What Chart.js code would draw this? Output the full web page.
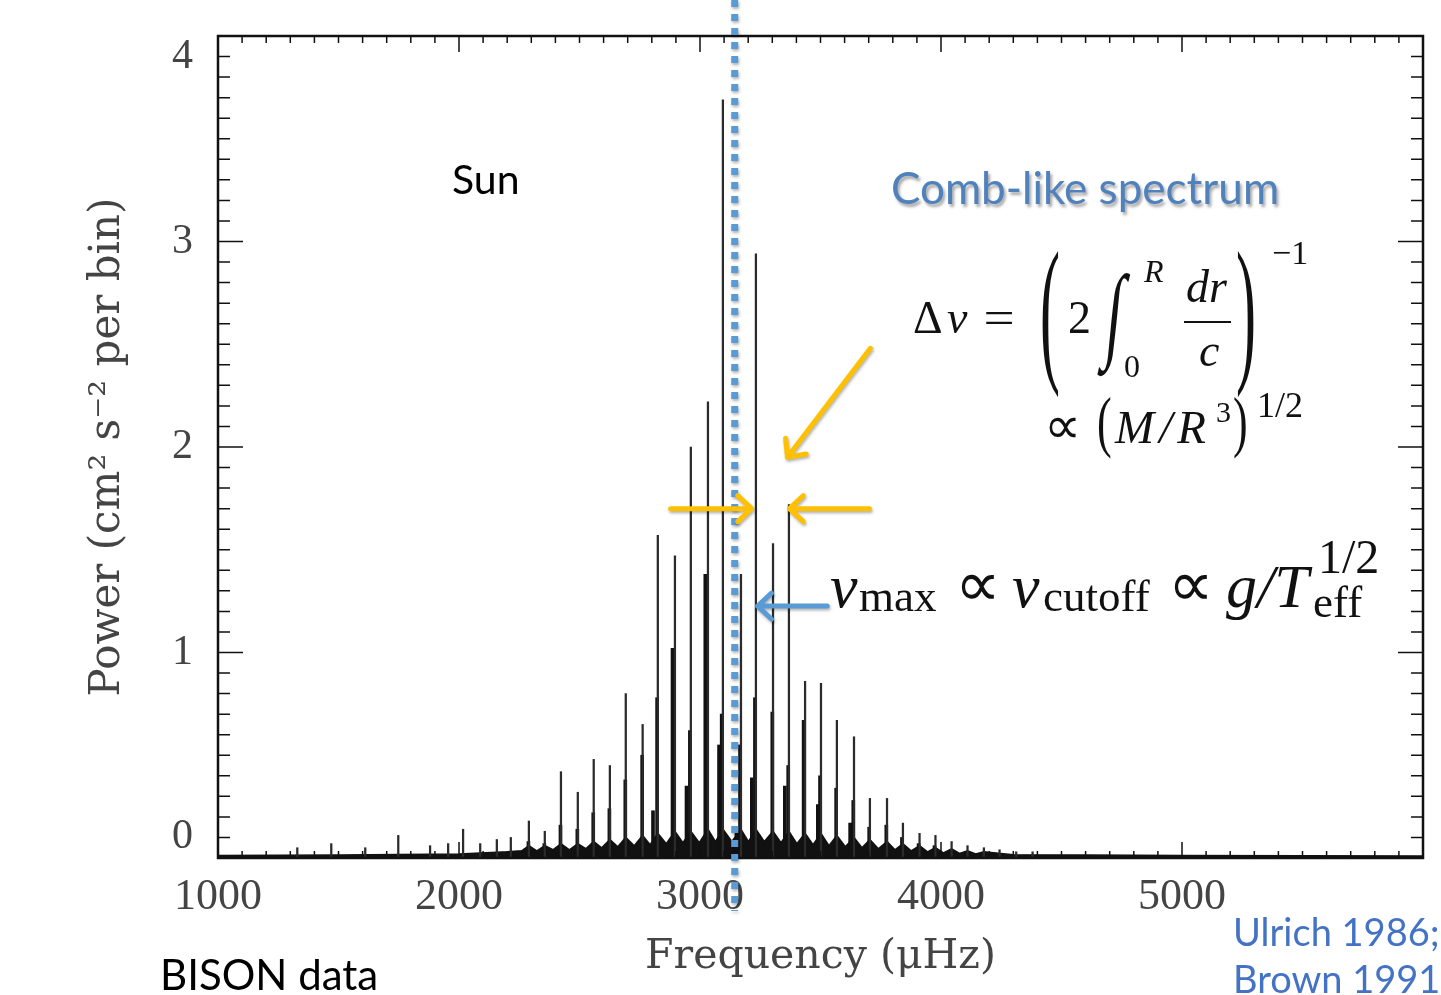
<!DOCTYPE html>
<html>
<head>
<meta charset="utf-8">
<script src="https://cdn.jsdelivr.net/npm/chart.js@4/dist/chart.umd.min.js"></script>
<style>
  html, body { margin: 0; padding: 0; background: #fff; }
  #wrap { position: relative; width: 1441px; height: 995px; overflow: hidden; }
  #wrap canvas { position: absolute; left: 0; top: 0; }
  .note { position: absolute; white-space: nowrap; line-height: 1; }
  .m { font-family: 'Liberation Serif', serif; color: #111; }
  .it { font-style: italic; }
  .sans { font-family: Lato, 'Open Sans', sans-serif; }
</style>
</head>
<body>
<div id="wrap">
  <canvas id="spectrum" width="1441" height="995"></canvas>
</div>
<script>
// BISON solar power spectrum (µHz, cm^2 s^-2 per bin)
const peakFreq = [1329, 1470, 1611, 1748, 1880, 1955, 2017, 2088, 2157, 2215,
  2290, 2356, 2423, 2493, 2559, 2626, 2692, 2762, 2825, 2896, 2962, 3033, 3095, 3170,
  3232, 3303, 3369, 3436, 3502, 3568, 3639, 3705, 3776, 3842,
  3911, 3977, 4044, 4110, 4178, 4243, 4312, 4380];
const peakPower = [0.05, 0.07, 0.05, 0.11, 0.06, 0.07, 0.14, 0.07, 0.09, 0.10,
  0.18, 0.13, 0.42, 0.32, 0.48, 0.45, 0.80, 0.65, 1.57, 1.47, 2.00, 2.22, 3.69, 1.38,
  2.94, 1.53, 1.72, 0.86, 0.85, 0.67, 0.59, 0.29, 0.29, 0.17,
  0.12, 0.11, 0.08, 0.06, 0.05, 0.04, 0.03, 0.03];

// the darker, thicker lower parts of the modes (l=2 / l=3 neighbours)
const baseFreq = [2288, 2354, 2421, 2491, 2557, 2624, 2690, 2760, 2805, 2822, 2886, 2944,
  2958, 3022, 3079, 3090, 3151, 3166, 3215, 3228, 3300, 3352, 3366, 3430, 3489, 3498,
  3565, 3623, 3636, 3702, 3773, 3838, 3907, 3973];
const basePower = [0.08, 0.07, 0.16, 0.14, 0.22, 0.24, 0.38, 0.50, 0.23, 0.78, 1.02, 0.35,
  0.62, 1.38, 0.55, 0.70, 0.12, 0.55, 0.39, 0.78, 0.71, 0.35, 0.45, 0.67, 0.26, 0.40,
  0.34, 0.17, 0.28, 0.15, 0.16, 0.10, 0.07, 0.06];

// noise floor with the small humps under each mode
const floorFreq = [1000, 1500, 2000, 2200, 2260, 2290, 2323, 2356, 2390, 2423, 2458, 2493,
  2526, 2559, 2592, 2626, 2659, 2692, 2727, 2762, 2793, 2825, 2860, 2896, 2929, 2962,
  2997, 3033, 3064, 3095, 3132, 3170, 3201, 3232, 3267, 3303, 3336, 3369, 3402, 3436,
  3469, 3502, 3535, 3568, 3603, 3639, 3672, 3705, 3740, 3776, 3809, 3842, 3876, 3911,
  3944, 3977, 4010, 4044, 4077, 4110, 4144, 4178, 4300, 4600, 5000, 6000];
const floorPower = [0.012, 0.015, 0.02, 0.03, 0.035, 0.06, 0.035, 0.06, 0.04, 0.07, 0.04, 0.07,
  0.045, 0.08, 0.05, 0.09, 0.055, 0.10, 0.06, 0.11, 0.065, 0.12, 0.07, 0.13, 0.075, 0.13,
  0.075, 0.14, 0.08, 0.14, 0.08, 0.14, 0.08, 0.14, 0.08, 0.13, 0.075, 0.13, 0.07, 0.12,
  0.065, 0.12, 0.06, 0.11, 0.055, 0.10, 0.05, 0.09, 0.045, 0.08, 0.04, 0.07, 0.035, 0.06,
  0.03, 0.05, 0.025, 0.045, 0.022, 0.035, 0.02, 0.03, 0.016, 0.014, 0.012, 0.01];

const xTickValues = [1000, 2000, 3000, 4000, 5000];
const xTickLabels = ['1000', '2000', '3000', '4000', '5000'];
const yTickLabels = ['0', '1', '2', '3', '4'];

// annotation anchors in data units
const numaxLine = 3144;
const arrows = [
  { from: [3707, 2.48], to: [3363, 1.95], color: '#FFC000' },
  { from: [2878, 1.70], to: [3214, 1.70], color: '#FFC000' },
  { from: [3703, 1.70], to: [3371, 1.70], color: '#FFC000' },
  { from: [3528, 1.226], to: [3239, 1.226], color: '#5B9BD5' }
];

const toPoints = (xs, ys) => xs.map((x, i) => ({ x: x, y: ys[i] }));

function drawArrow(ctx, x1, y1, x2, y2) {
  const a = Math.atan2(y2 - y1, x2 - x1);
  const h = 19;
  ctx.beginPath();
  ctx.moveTo(x1, y1);
  ctx.lineTo(x2, y2);
  ctx.moveTo(x2 - h * Math.cos(a - 0.75), y2 - h * Math.sin(a - 0.75));
  ctx.lineTo(x2, y2);
  ctx.lineTo(x2 - h * Math.cos(a + 0.75), y2 - h * Math.sin(a + 0.75));
  ctx.stroke();
}

// frame with inward ticks on all four sides
const framePlugin = {
  id: 'frame',
  afterDatasetsDraw(chart) {
    const { ctx, chartArea: a, scales: { x, y } } = chart;
    ctx.save();
    ctx.strokeStyle = '#111';
    ctx.lineWidth = 1.5;
    ctx.beginPath();
    for (let i = 1; i < 50; i++) {
      const px = x.getPixelForValue(1000 + i * 100);
      const len = i % 10 === 0 ? 16 : 7;
      ctx.moveTo(px, a.top); ctx.lineTo(px, a.top + len);
      ctx.moveTo(px, a.bottom); ctx.lineTo(px, a.bottom - len);
    }
    for (let i = 1; i < 40; i++) {
      const py = y.getPixelForValue(i / 10);
      const len = i % 10 === 0 ? 25 : 12;
      ctx.moveTo(a.left, py); ctx.lineTo(a.left + len, py);
      ctx.moveTo(a.right, py); ctx.lineTo(a.right - len, py);
    }
    ctx.stroke();
    ctx.lineWidth = 2.5;
    ctx.strokeRect(a.left, a.top, a.width, a.height);
    ctx.restore();
  },
  afterDraw(chart) {
    const { ctx, chartArea: a, scales: { x, y } } = chart;
    ctx.save();
    ctx.shadowColor = 'rgba(0,0,0,0.3)';
    ctx.shadowBlur = 3;
    ctx.shadowOffsetX = 1;
    ctx.shadowOffsetY = 2;
    // nu_max marker, dotted blue
    const lx = x.getPixelForValue(numaxLine);
    ctx.strokeStyle = '#5B9BD5';
    ctx.lineWidth = 7;
    ctx.setLineDash([7, 7]);
    ctx.beginPath();
    ctx.moveTo(lx, 0);
    ctx.lineTo(lx, a.bottom + 53);
    ctx.stroke();
    ctx.setLineDash([]);
    ctx.lineWidth = 5;
    ctx.lineCap = 'round';
    ctx.lineJoin = 'round';
    arrows.forEach(ar => {
      ctx.strokeStyle = ar.color;
      drawArrow(ctx, x.getPixelForValue(ar.from[0]), y.getPixelForValue(ar.from[1]),
        x.getPixelForValue(ar.to[0]), y.getPixelForValue(ar.to[1]));
    });
    ctx.restore();
  }
};

const spectrumChart = new Chart(document.getElementById('spectrum'), {
  type: 'bar',
  data: {
    datasets: [{
      label: 'Peaks',
      data: toPoints(peakFreq, peakPower),
      backgroundColor: '#2b2b2b',
      barThickness: 1.6,
      grouped: false,
      order: 1
    }, {
      label: 'Mode bases',
      data: toPoints(baseFreq, basePower),
      backgroundColor: '#111',
      barThickness: 3,
      grouped: false,
      order: 2
    }, {
      type: 'line',
      label: 'Noise floor',
      data: toPoints(floorFreq, floorPower),
      borderColor: '#111',
      borderWidth: 1.5,
      backgroundColor: '#111',
      fill: 'origin',
      pointRadius: 0,
      tension: 0,
      order: 3
    }]
  },
  options: {
    responsive: false,
    animation: false,
    layout: { padding: { left: 0, top: 36, right: 18, bottom: 0 } },
    plugins: { legend: { display: false }, tooltip: { enabled: false } },
    scales: {
      x: {
        type: 'linear',
        min: 1000,
        max: 6000,
        offset: false,
        grid: { display: false },
        border: { display: false },
        ticks: {
          stepSize: 1000,
          autoSkip: false,
          maxRotation: 0,
          padding: 5,
          color: '#444',
          font: { family: 'Liberation Serif', size: 44 },
          callback: v => {
            const i = xTickValues.indexOf(v);
            return i >= 0 ? xTickLabels[i] : '';
          }
        },
        title: {
          display: true,
          text: 'Frequency (μHz)',
          color: '#444',
          font: { family: 'DejaVu Serif', size: 41 },
          padding: { top: 0, bottom: 13 }
        },
        afterFit: s => { s.height = 137; s.paddingLeft = 0; s.paddingRight = 0; }
      },
      y: {
        min: 0,
        max: 4,
        grid: { display: false },
        border: { display: false },
        ticks: {
          stepSize: 1,
          padding: 17,
          color: '#444',
          font: { family: 'Liberation Serif', size: 42, lineHeight: 1 },
          // the end labels sit one minor tick inside the frame, as in the original
          callback: v => v === 0 ? [yTickLabels[0], ''] : v === 4 ? ['', yTickLabels[4]] : yTickLabels[v]
        },
        title: {
          display: true,
          text: 'Power (cm² s⁻² per bin)',
          color: '#444',
          font: { family: 'DejaVu Serif', size: 42 },
          padding: { top: 83, bottom: 0 }
        },
        afterFit: s => { s.width = 218; s.paddingTop = 0; s.paddingBottom = 0; }
      }
    }
  },
  plugins: [framePlugin]
});

// text annotations: [text, left, top, size, classes, extra style]
const wrap = document.getElementById('wrap');
const notes = [
  ['Sun', 452, 158, 41, 'sans', 'color:#000'],
  ['Comb-like spectrum', 891, 165, 44, 'sans', 'color:#4F81BD;text-shadow:2px 3px 3px rgba(0,0,0,0.35)'],
  ['BISON data', 160, 953, 42, 'sans', 'color:#000'],
  ['Ulrich 1986;', 1233, 912, 38, 'sans', 'color:#4472C4'],
  ['Brown 1991', 1233, 959, 38, 'sans', 'color:#4472C4'],
  // Δν formula
  ['Δ', 913, 295, 46, 'm', ''],
  ['ν', 947, 295, 46, 'm it', ''],
  ['=', 986, 295, 46, 'm', 'transform:scaleX(1.2)'],
  ['(', 1040, 287, 60, 'm', 'transform:scaleY(2.7);transform-origin:50% 34.7px'],
  ['2', 1068, 295, 46, 'm', ''],
  ['∫', 1106, 287, 60, 'm', 'transform:scaleY(1.75) skewX(-10deg);transform-origin:50% 34.7px'],
  ['R', 1144, 255, 32, 'm it', ''],
  ['0', 1124, 350, 32, 'm', ''],
  ['dr', 1186, 264, 46, 'm it', ''],
  ['c', 1199, 328, 46, 'm it', ''],
  [')', 1236, 287, 60, 'm', 'transform:scaleY(2.7);transform-origin:50% 34.7px'],
  ['−1', 1272, 236, 34, 'm', ''],
  ['∝', 1044, 400, 52, 'm', ''],
  ['(', 1097, 402, 44, 'm', 'transform:scaleY(1.55);transform-origin:50% 25.5px'],
  ['M/R', 1115, 404, 47, 'm it', 'letter-spacing:5px'],
  ['3', 1216, 397, 30, 'm', ''],
  [')', 1233, 402, 44, 'm', 'transform:scaleY(1.55);transform-origin:50% 25.5px'],
  ['1/2', 1257, 387, 36, 'm', ''],
  // nu_max relation
  ['ν', 830, 555, 62, 'm it', ''],
  ['max', 859, 574, 45, 'm', ''],
  ['∝', 955, 553, 64, 'm', ''],
  ['ν', 1012, 555, 62, 'm it', ''],
  ['cutoff', 1043, 574, 45, 'm', ''],
  ['∝', 1168, 553, 64, 'm', ''],
  ['g/T', 1226, 555, 62, 'm it', ''],
  ['1/2', 1318, 533, 48, 'm', ''],
  ['eff', 1313, 580, 45, 'm', '']
];
notes.forEach(n => {
  const el = document.createElement('span');
  el.className = 'note ' + n[4];
  el.textContent = n[0];
  el.style.cssText += 'left:' + n[1] + 'px;top:' + n[2] + 'px;font-size:' + n[3] + 'px;' + n[5];
  wrap.appendChild(el);
});
const bar = document.createElement('div');
bar.style.cssText = 'position:absolute;left:1184px;top:321px;width:47px;height:2px;background:#111';
wrap.appendChild(bar);
</script>
</body>
</html>
